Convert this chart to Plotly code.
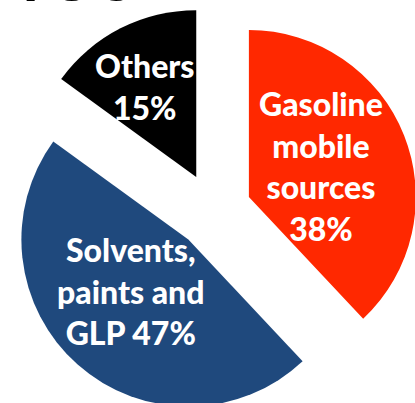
import plotly.graph_objects as go

# Source shares of VOC emissions
categories = ["Gasoline mobile sources", "Solvents, paints and GLP", "Others"]
label_text = ["Gasoline<br>mobile<br>sources", "Solvents,<br>paints and<br>GLP", "Others"]
label_sep = ["<br>", " ", "<br>"]
shares = [38, 47, 15]
colors = ["#FF2800", "#1F497D", "#000000"]
title_text = "VOC"

W, H = 428, 422
M = dict(l=0, r=1, t=6, b=6)
PW = W - M["l"] - M["r"]
PH = H - M["t"] - M["b"]


def paper(px, py):
    return (px - M["l"]) / PW, 1 - (py - M["t"]) / PH


fig = go.Figure(
    go.Pie(
        labels=categories,
        values=shares,
        sort=False,
        direction="clockwise",
        rotation=0,
        pull=[0.228] * len(shares),
        marker=dict(colors=colors, line=dict(width=0)),
        textinfo="none",
        hoverinfo="label+percent",
        showlegend=False,
    )
)

# Slice labels, centred on each wedge
label_pos = [(321, 166), (131, 291), (145, 87)]
annotations = []
for txt, sep, val, (px, py) in zip(label_text, label_sep, shares, label_pos):
    ax, ay = paper(px, py)
    annotations.append(
        dict(
            text=f"{txt}{sep}{val}%",
            x=ax, y=ay, xref="paper", yref="paper",
            xanchor="center", yanchor="middle",
            showarrow=False, align="center",
            font=dict(family="Lato", size=32, color="white", weight=900),
        )
    )

# Heading sits mostly above the visible page
tx, ty = paper(70, -20)
annotations.append(
    dict(
        text=title_text, x=tx, y=ty, xref="paper", yref="paper",
        xanchor="center", yanchor="middle", showarrow=False,
        font=dict(family="Lato", size=56, color="black", weight=900),
    )
)

fig.update_layout(
    width=W, height=H, margin=M,
    paper_bgcolor="white", plot_bgcolor="white",
    annotations=annotations,
)

fig.write_html(
    "out.html",
    post_script="document.documentElement.style.overflow='hidden';document.body.style.overflow='hidden';",
)
